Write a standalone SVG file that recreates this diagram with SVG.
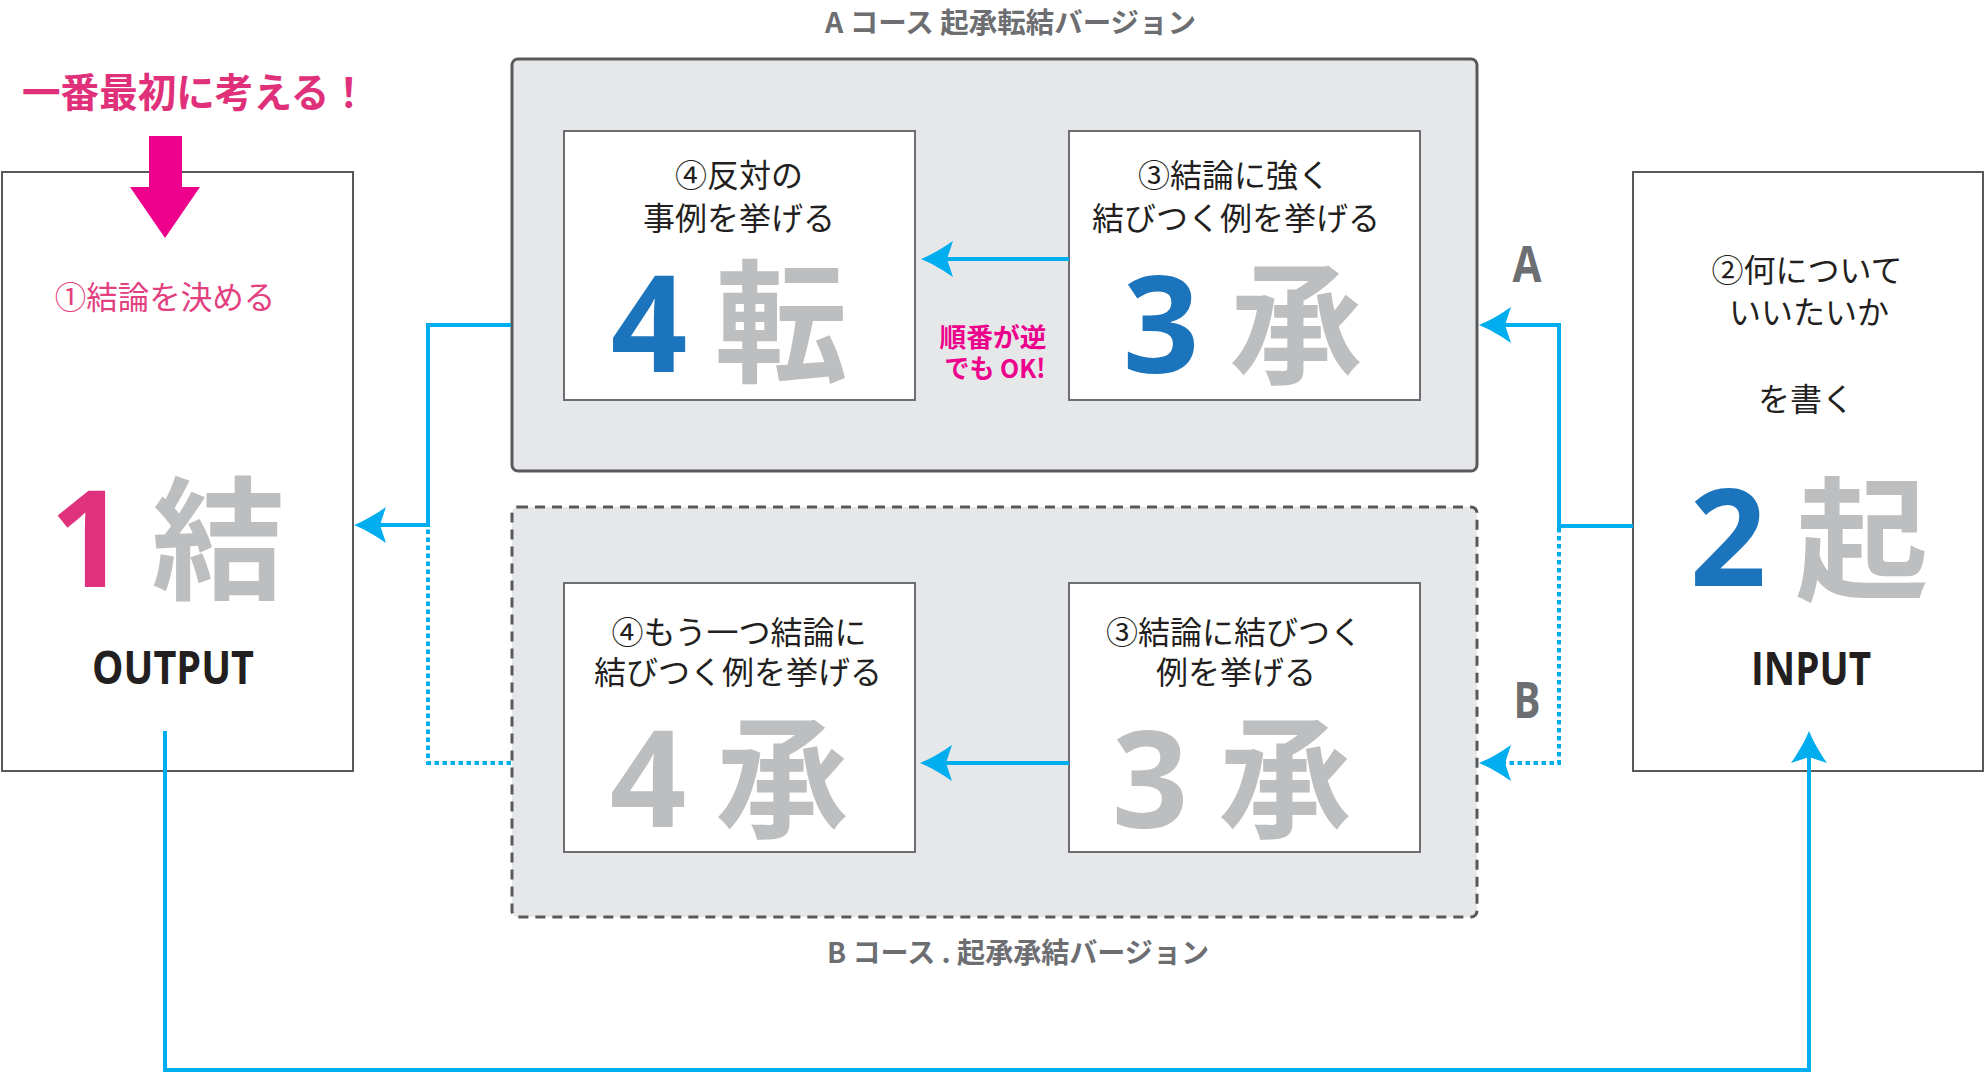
<svg xmlns="http://www.w3.org/2000/svg" width="1984" height="1074" viewBox="0 0 1984 1074">
<style>
.jp{font-family:"Noto Sans CJK JP","Noto Sans",sans-serif;}
.txt{font-size:32px;fill:#231f20;text-anchor:middle;font-family:"Noto Sans CJK JP",sans-serif;}
.big{font-size:133px;font-weight:700;fill:#bcbec0;text-anchor:middle;font-family:"Noto Sans CJK JP",sans-serif;}
.num{font-size:134px;font-weight:700;text-anchor:middle;font-family:"Open Sans","Noto Sans",sans-serif;}
.blue{fill:#1c75bc;}
.gray{fill:#bcbec0;}
.card{fill:#ffffff;stroke:#6d6e71;stroke-width:2;}
.side{fill:#ffffff;stroke:#58595b;stroke-width:2;}
.title{font-size:28px;font-weight:700;fill:#6d6e71;font-family:"Noto Sans CJK JP",sans-serif;}
.lbl{font-size:50px;font-weight:700;fill:#6d6e71;text-anchor:middle;font-family:"Open Sans",sans-serif;}
.io{font-size:46px;font-weight:700;fill:#231f20;text-anchor:middle;font-family:"Open Sans",sans-serif;}
.solid{fill:none;stroke:#00aeef;stroke-width:4;}
.dot{fill:none;stroke:#00aeef;stroke-width:4;stroke-dasharray:4.5 3.5;}
</style>
<defs>
<marker id="ah" markerUnits="userSpaceOnUse" viewBox="-36 -20 44 40" refX="-6" refY="0" markerWidth="44" markerHeight="40" orient="auto">
<path d="M0,0 C-10,-4 -22,-11 -32,-18 L-26,0 L-32,18 C-22,11 -10,4 0,0 Z" fill="#00aeef"/>
</marker>
</defs>
<rect width="1984" height="1074" fill="#ffffff"/>

<g id="title-a">
<text class="title" x="825" y="33" textLength="371" lengthAdjust="spacingAndGlyphs">A コース 起承転結バージョン</text>
</g>
<g id="title-b">
<text class="title" x="827" y="963" textLength="382" lengthAdjust="spacingAndGlyphs">B コース . 起承承結バージョン</text>
</g>

<g id="course-a">
<rect x="512" y="59" width="965" height="412" rx="6" fill="#e6e7e8" stroke="#58595b" stroke-width="3"/>
</g>
<g id="course-b">
<rect x="512" y="507" width="965" height="410" rx="6" fill="#e6e7e8" stroke="#58595b" stroke-width="3" stroke-dasharray="10 7"/>
</g>

<g id="node-output">
<rect class="side" x="2" y="172" width="351" height="599"/>
<text class="jp" x="165" y="309" font-size="31.5" fill="#e2407f" text-anchor="middle">①結論を決める</text>
<text class="num" x="88" y="587" fill="#e0327c">1</text>
<text class="big" x="218" y="589">結</text>
<text class="io" x="173" y="684" textLength="162" lengthAdjust="spacingAndGlyphs">OUTPUT</text>
</g>

<g id="note-first">
<text class="jp" x="22" y="107" font-size="40" font-weight="700" fill="#e0307a" textLength="346" lengthAdjust="spacingAndGlyphs">一番最初に考える！</text>
<polygon points="149,136 182,136 182,187 200,187 165,238 130,187 149,187" fill="#ec008c"/>
</g>

<g id="node-input">
<rect class="side" x="1633" y="172" width="350" height="599"/>
<text class="txt" x="1807" y="282" font-size="31">②何について</text>
<text class="txt" x="1809" y="324" font-size="31">いいたいか</text>
<text class="txt" x="1806" y="411" font-size="31">を書く</text>
<text class="num blue" x="1728" y="586">2</text>
<text class="big" x="1862" y="589">起</text>
<text class="io" x="1811" y="685" textLength="120" lengthAdjust="spacingAndGlyphs">INPUT</text>
</g>

<g id="node-a4">
<rect class="card" x="564" y="131" width="351" height="269"/>
<text class="txt" x="739" y="187">④反対の</text>
<text class="txt" x="739" y="230">事例を挙げる</text>
<text class="num blue" x="649" y="372">4</text>
<text class="big" x="781" y="372">転</text>
</g>

<g id="node-a3">
<rect class="card" x="1069" y="131" width="351" height="269"/>
<text class="txt" x="1234" y="187">③結論に強く</text>
<text class="txt" x="1236" y="230">結びつく例を挙げる</text>
<text class="num blue" x="1161" y="373">3</text>
<text class="big" x="1296" y="373">承</text>
</g>

<g id="note-order">
<text class="jp" x="993" y="347" font-size="26" font-weight="700" fill="#ec008c" text-anchor="middle" textLength="107" lengthAdjust="spacingAndGlyphs">順番が逆</text>
<text class="jp" x="995" y="378" font-size="26" font-weight="700" fill="#ec008c" text-anchor="middle" textLength="101" lengthAdjust="spacingAndGlyphs">でも OK!</text>
</g>

<g id="node-b4">
<rect class="card" x="564" y="583" width="351" height="269"/>
<text class="txt" x="739" y="644">④もう一つ結論に</text>
<text class="txt" x="738" y="684">結びつく例を挙げる</text>
<text class="num gray" x="648" y="827">4</text>
<text class="big" x="782" y="827">承</text>
</g>

<g id="node-b3">
<rect class="card" x="1069" y="583" width="351" height="269"/>
<text class="txt" x="1234" y="644">③結論に結びつく</text>
<text class="txt" x="1236" y="684">例を挙げる</text>
<text class="num gray" x="1150" y="828">3</text>
<text class="big" x="1285" y="827">承</text>
</g>

<g id="label-a"><text class="lbl" x="1527" y="282" textLength="29" lengthAdjust="spacingAndGlyphs">A</text></g>
<g id="label-b"><text class="lbl" x="1527" y="718" textLength="27" lengthAdjust="spacingAndGlyphs">B</text></g>

<g id="connectors">
<path class="solid" d="M511,325 H428 V525 H360" marker-end="url(#ah)"/>
<path class="dot" d="M511,763 H428 V527"/>
<path class="solid" d="M1633,526 H1559 V325 H1485" marker-end="url(#ah)"/>
<path class="dot" d="M1559,528 V763 H1485" marker-end="url(#ah)"/>
<path class="solid" d="M1069,259 H927" marker-end="url(#ah)"/>
<path class="solid" d="M1069,763 H926" marker-end="url(#ah)"/>
<path class="solid" d="M165,731 V1070 H1809 V737" marker-end="url(#ah)"/>
</g>
</svg>
